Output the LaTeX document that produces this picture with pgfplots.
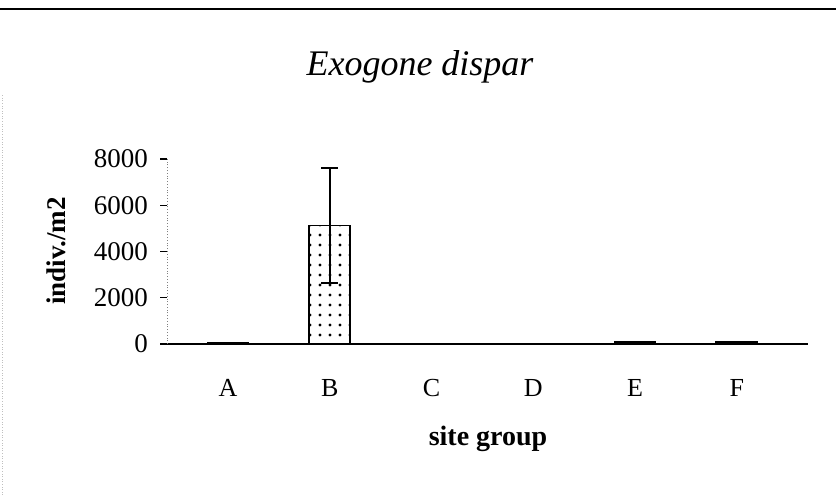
\documentclass[border=0pt]{standalone}
\usepackage{pgfplots}
\pgfplotsset{compat=1.18}
\usepackage{fontspec}
\setmainfont{Liberation Serif}
\usetikzlibrary{patterns.meta}
\begin{document}
\begin{tikzpicture}
\path[use as bounding box] (0,0) rectangle (418bp,247.5bp);
\draw[line width=0.8bp] (0,243bp) -- (418bp,243bp);
\draw[gray!50, densely dotted, line width=0.3bp] (1bp,0) -- (1bp,200bp);
\begin{axis}[
  at={(83.5bp,75.5bp)}, anchor=south west, scale only axis,
  width=320.5bp, height=92.5bp,
  xmin=-0.6, xmax=5.7, ymin=0, ymax=8000,
  axis lines*=left,
  x axis line style={-, line width=0.8bp},
  y axis line style={-, densely dotted, line width=0.4bp, gray},
  ytick={0,2000,4000,6000,8000},
  ytick style={solid, black, line width=0.6bp},
  tick align=outside,
  major tick length=3.5bp,
  xtick={0,1,2,3,4,5},
  xticklabels={A,B,C,D,E,F},
  xtick style={draw=none},
  /pgf/number format/assume math mode=true,
  /pgf/number format/1000 sep={},
  yticklabel style={font=\fontsize{13.5bp}{15bp}\selectfont, xshift=-2.5bp},
  xticklabel style={font=\fontsize{13bp}{15bp}\selectfont, yshift=-10.5bp},
  clip=false,
]
\addplot[ybar, bar width=20.5bp, draw=black, line width=0.8bp, fill=white,
  postaction={pattern={Dots[distance=5bp, radius=0.8bp]}},
  error bars/.cd, y dir=both, y explicit,
  error bar style={line width=0.9bp, black},
  error mark options={rotate=90, mark size=4.2bp, line width=0.9bp}]
coordinates {(1,5130) +- (0,2475)};
\addplot[ybar, bar width=20.5bp, draw=black, line width=0.8bp, fill=black]
coordinates {(0,40) (2,30) (3,30) (4,100) (5,100)};
\end{axis}
\node[anchor=base, font=\fontsize{18bp}{20bp}\selectfont\itshape] at (210bp,209.5bp) {Exogone dispar};
\node[anchor=base, font=\fontsize{14bp}{16bp}\selectfont\bfseries] at (244bp,25bp) {site group};
\node[anchor=base, rotate=90, font=\fontsize{13.5bp}{16bp}\selectfont\bfseries] at (32.5bp,122bp) {indiv./m2};
\end{tikzpicture}
\end{document}
